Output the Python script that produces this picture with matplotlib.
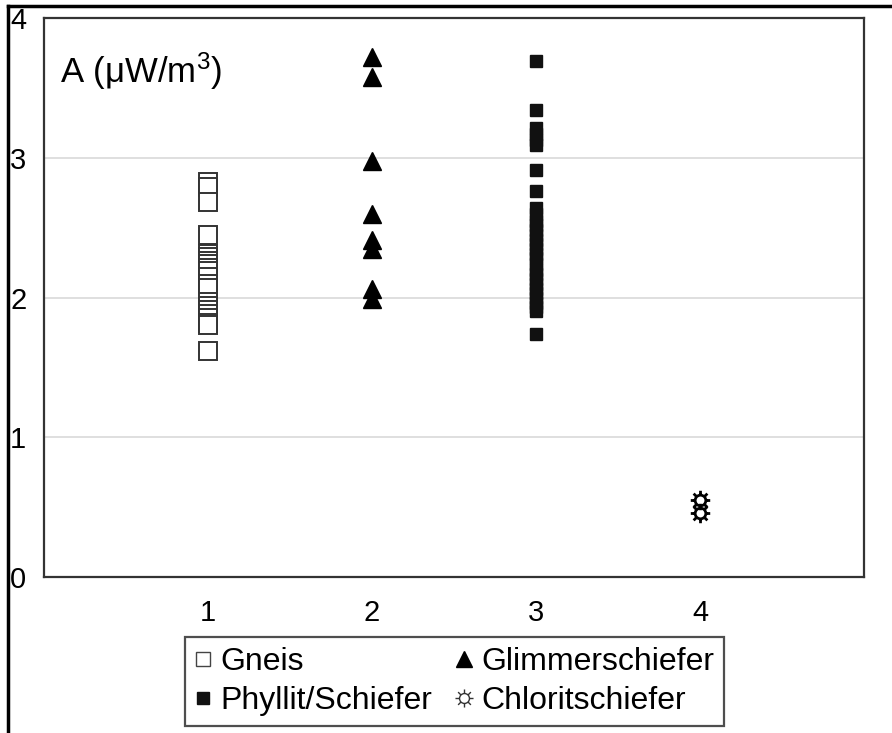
import numpy as np
import matplotlib
matplotlib.use('Agg')
import matplotlib.pyplot as plt
from matplotlib.lines import Line2D
from matplotlib.path import Path

plt.rcParams['font.family'] = ['Liberation Sans', 'DejaVu Sans']

# values (A in microW/m3)
gneis = [2.83, 2.79, 2.68, 2.45, 2.31, 2.29, 2.26, 2.24, 2.21, 2.19, 2.15,
         2.10, 2.07, 1.97, 1.94, 1.91, 1.88, 1.85, 1.82, 1.80, 1.62]
glimmer = [3.72, 3.58, 2.98, 2.60, 2.41, 2.35, 2.06, 1.99]
phyllit = [3.69, 3.34, 3.21, 3.17, 3.13, 3.09, 2.91, 2.76,
           2.64, 2.60, 2.55, 2.52, 2.48, 2.45, 2.41, 2.38, 2.35, 2.31, 2.28,
           2.24, 2.20, 2.17, 2.13, 2.10, 2.06, 2.03, 2.00, 1.96, 1.93, 1.90,
           1.74]
chlorit = [0.55, 0.46]

x_ticks = [1, 2, 3, 4]
y_ticks = [0, 1, 2, 3, 4]
labels = ['Gneis', 'Phyllit/Schiefer', 'Glimmerschiefer', 'Chloritschiefer']


def sun_marker():
    # circle with 8 short rays, like the symbol in the figure
    parts = [Path.circle((0, 0), 0.55)]
    for a in np.arange(8) * np.pi / 4:
        c, s = np.cos(a), np.sin(a)
        parts.append(Path([(0.62*c, 0.62*s), (1.0*c, 1.0*s)],
                          [Path.MOVETO, Path.LINETO]))
    return Path.make_compound_path(*parts)


sun = sun_marker()

fig = plt.figure(figsize=(8.92, 7.33), dpi=100)
ax = fig.add_axes([44/892, 1-577/733, 820/892, 559/733])

ax.plot([1]*len(gneis), gneis, ls='none', marker='s', ms=12.5, mfc='white',
        mec='#333333', mew=1.4, zorder=3)
ax.plot([2]*len(glimmer), glimmer, ls='none', marker='^', ms=12.5, color='black', zorder=3)
ax.plot([3]*len(phyllit), phyllit, ls='none', marker='s', ms=9, color='#111111', zorder=3)
ax.plot([4]*len(chlorit), chlorit, ls='none', marker=sun, ms=14, mfc='none',
        mec='black', mew=2, zorder=3)

ax.set_xlim(0, 5)
ax.set_ylim(0, 4)
ax.set_xticks(x_ticks)
ax.set_yticks(y_ticks)
ax.tick_params(length=0, labelsize=21, pad=16)
ax.tick_params(axis='y', pad=0)
for t in ax.get_yticklabels():
    t.set_horizontalalignment('left')
    t.set_x(-34/820)
ax.yaxis.grid(True, color='#d9d9d9', lw=1.2)
ax.set_axisbelow(True)
for s in ax.spines.values():
    s.set_color('#333333')
    s.set_linewidth(1.6)

ax.text(0.019, 0.905, r'A ($\mathregular{\mu}$W/m$\mathregular{^3}$)', transform=ax.transAxes,
        fontsize=25, va='center', ha='left')

handles = [
    Line2D([], [], ls='none', marker='s', ms=10, mfc='white', mec='#444444', mew=1),
    Line2D([], [], ls='none', marker='s', ms=8, color='#111111'),
    Line2D([], [], ls='none', marker='^', ms=11, color='black'),
    Line2D([], [], ls='none', marker=sun, ms=13, mfc='none', mec='#333333', mew=1),
]
leg = fig.legend(handles, labels, ncol=2, loc='center',
                 bbox_to_anchor=(454.5/892, 1-681.5/733), fontsize=23,
                 frameon=True, fancybox=False, handlelength=0.5,
                 handletextpad=0.3, columnspacing=0.75, labelspacing=0.3,
                 borderpad=0.3, borderaxespad=0)
leg.get_frame().set_edgecolor('#222222')
leg.get_frame().set_linewidth(1.6)

# outer frame lines (top and left)
fig.add_artist(Line2D([8/892, 1], [1-6/733, 1-6/733], color='black', lw=2.5))
fig.add_artist(Line2D([8/892, 8/892], [0, 1-6/733], color='black', lw=2.5))

fig.savefig('out.png', dpi=100)
